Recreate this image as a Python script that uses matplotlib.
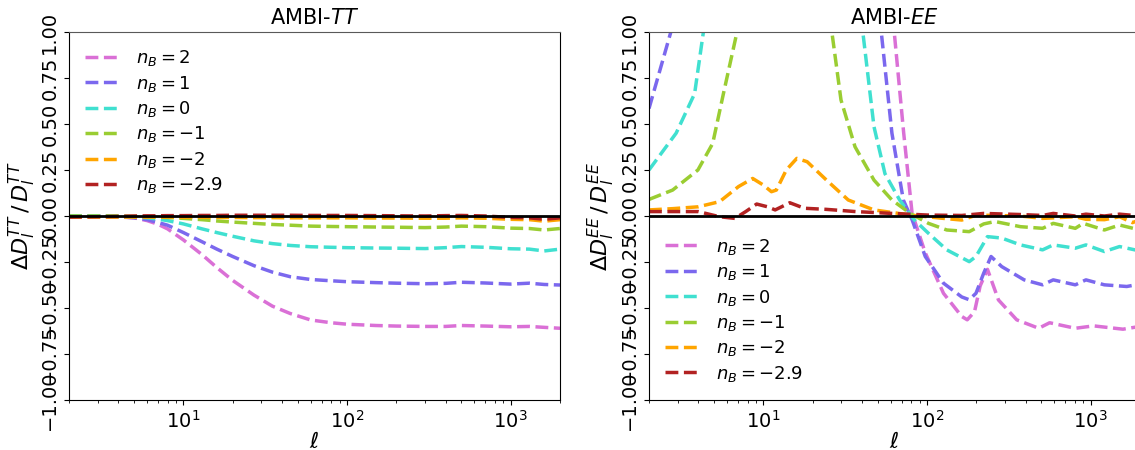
import numpy as np
import matplotlib
matplotlib.use('Agg')
import matplotlib.pyplot as plt

plt.rcParams['mathtext.fontset'] = 'dejavusans'

labels = [r'$n_B = 2$', r'$n_B = 1$', r'$n_B = 0$', r'$n_B = -1$', r'$n_B = -2$', r'$n_B = -2.9$']
colors = ['orchid', 'mediumslateblue', 'turquoise', 'yellowgreen', 'orange', 'firebrick']

# TT panel, values
ell_tt = [2, 3, 4, 5, 6, 7, 8, 10, 13, 16, 20, 27, 35, 45, 60, 80, 100, 150, 200, 300, 400, 500, 700, 1000, 1300, 1600, 2000]
tt_n2 = [0, 0, -0.005, -0.01, -0.025, -0.045, -0.07, -0.13, -0.21, -0.28, -0.35, -0.43, -0.49, -0.53, -0.565, -0.58, -0.588, -0.595, -0.598, -0.60, -0.60, -0.595, -0.598, -0.602, -0.60, -0.605, -0.61]
tt_n1 = [0, 0, -0.003, -0.01, -0.02, -0.035, -0.05, -0.09, -0.14, -0.18, -0.22, -0.27, -0.305, -0.33, -0.345, -0.352, -0.357, -0.362, -0.365, -0.368, -0.366, -0.36, -0.364, -0.37, -0.365, -0.372, -0.375]
tt_n0 = [0, 0, -0.002, -0.005, -0.01, -0.017, -0.025, -0.043, -0.07, -0.09, -0.11, -0.135, -0.15, -0.16, -0.167, -0.17, -0.172, -0.174, -0.175, -0.177, -0.172, -0.166, -0.17, -0.178, -0.18, -0.19, -0.18]
tt_nm1 = [0, 0, 0, -0.002, -0.004, -0.006, -0.008, -0.013, -0.02, -0.027, -0.033, -0.04, -0.046, -0.05, -0.055, -0.057, -0.058, -0.06, -0.061, -0.063, -0.06, -0.055, -0.058, -0.066, -0.068, -0.076, -0.068]
tt_nm2 = [-0.006, -0.006, -0.006, -0.006, -0.006, -0.006, -0.006, -0.007, -0.007, -0.008, -0.008, -0.009, -0.009, -0.01, -0.01, -0.01, -0.01, -0.011, -0.011, -0.012, -0.012, -0.01, -0.012, -0.018, -0.02, -0.028, -0.02]
tt_nm29 = [-0.006, -0.004, -0.002, 0, 0.001, 0.001, 0.002, 0.002, 0.003, 0.003, 0.004, 0.004, 0.004, 0.004, 0.003, 0.003, 0.003, 0.002, 0.001, 0.0, 0.002, 0.003, 0.0, -0.008, -0.01, -0.018, -0.01]
tt_all = [tt_n2, tt_n1, tt_n0, tt_nm1, tt_nm2, tt_nm29]

# EE panel (values above 1 run off the top of the axes)
ell_ee_n2 = [2, 10, 40, 55, 63, 72, 81, 97.5, 126, 163, 176, 195, 211, 234, 273, 353, 481, 561, 805, 1042, 1574, 2000]
ee_n2 = [5, 5, 5, 2.0, 1.0, 0.45, 0.015, -0.2, -0.42, -0.546, -0.564, -0.52, -0.38, -0.29, -0.456, -0.564, -0.61, -0.58, -0.61, -0.597, -0.615, -0.6]
ell_ee_n1 = [2, 2.72, 3.5, 40, 52.5, 61, 71.6, 81, 97.5, 126, 163, 181, 199, 222, 246, 286, 392, 508, 590, 805, 935, 1212, 1660, 2000]
ee_n1 = [0.584, 1.0, 2.0, 2.0, 1.0, 0.45, 0.087, -0.02, -0.22, -0.365, -0.44, -0.455, -0.42, -0.31, -0.22, -0.275, -0.347, -0.374, -0.347, -0.374, -0.347, -0.374, -0.383, -0.37]
ell_ee_n0 = [2, 2.93, 3.8, 4.3, 6, 30, 40.5, 47.4, 55.3, 68, 83.3, 102, 132, 181, 199, 234, 286, 372, 508, 590, 805, 935, 1212, 1500, 2000]
ee_n0 = [0.25, 0.45, 0.665, 1.0, 2.0, 2.0, 1.0, 0.485, 0.23, 0.087, -0.02, -0.094, -0.184, -0.248, -0.22, -0.112, -0.12, -0.157, -0.184, -0.157, -0.175, -0.157, -0.193, -0.166, -0.19]
ell_ee_nm1 = [2, 2.79, 3.98, 4.9, 5.7, 6.9, 9, 20, 26.2, 29.8, 36.3, 47.4, 61, 79, 102, 132, 181, 222, 260, 372, 508, 590, 805, 900, 1212, 1500, 2000]
ee_nm1 = [0.09, 0.141, 0.25, 0.394, 0.665, 1.0, 2.0, 2.0, 1.0, 0.63, 0.376, 0.195, 0.087, 0.014, -0.04, -0.076, -0.085, -0.043, -0.03, -0.058, -0.067, -0.04, -0.067, -0.04, -0.076, -0.049, -0.076]
ell_ee_nm2 = [2, 2.8, 4, 5.4, 7.05, 8.6, 10, 11.2, 12, 13.8, 16, 18.5, 24.3, 33, 47.4, 79, 126, 163, 200, 372, 508, 805, 935, 1212, 1500, 1800, 2000]
ee_nm2 = [0.033, 0.04, 0.05, 0.078, 0.16, 0.204, 0.168, 0.132, 0.141, 0.25, 0.313, 0.295, 0.195, 0.087, 0.033, 0.005, -0.013, -0.022, 0.005, 0.0, -0.013, -0.004, -0.018, -0.02, -0.004, -0.036, -0.02]
ell_ee_nm29 = [2, 4, 5.4, 6.7, 7.8, 9.1, 10.6, 11.8, 14.5, 17.8, 24.3, 36.6, 61, 102, 163, 222, 372, 508, 590, 805, 935, 1212, 1500, 2000]
ee_nm29 = [0.024, 0.024, -0.004, -0.013, 0.024, 0.065, 0.05, 0.033, 0.072, 0.042, 0.036, 0.024, 0.014, 0.005, 0.003, 0.014, 0.008, 0.003, 0.014, 0.0, 0.01, 0.0, 0.01, 0.0]
ee_ell = [ell_ee_n2, ell_ee_n1, ell_ee_n0, ell_ee_nm1, ell_ee_nm2, ell_ee_nm29]
ee_all = [ee_n2, ee_n1, ee_n0, ee_nm1, ee_nm2, ee_nm29]

yticks = [-1.0, -0.75, -0.5, -0.25, 0.0, 0.25, 0.5, 0.75, 1.0]

fig = plt.figure(figsize=(11.35, 4.5), dpi=100)
ax1 = fig.add_axes([0.0608, 0.111, 0.4326, 0.818])
ax2 = fig.add_axes([0.5718, 0.111, 0.4326, 0.818])


def style_axis(ax, title, ylab):
    ax.set_xscale('log')
    ax.set_xlim(2, 2000)
    ax.set_ylim(-1, 1)
    ax.set_yticks(yticks)
    ax.set_yticklabels([('%.2f' % v).replace('-', '\u2212') for v in yticks])
    ax.axhline(0, color='black', lw=2, zorder=5)
    ax.tick_params(axis='y', labelrotation=90, labelsize=14)
    ax.tick_params(axis='x', labelsize=14)
    for lab in ax.get_yticklabels():
        lab.set_va('center')
    ax.spines['top'].set_color('0.35')
    ax.set_title(title, fontsize=15)
    ax.set_xlabel(r'$\ell$', fontsize=16, labelpad=0)
    ax.set_ylabel(ylab, fontsize=16, labelpad=2)


for vals, c, lab in zip(tt_all, colors, labels):
    ax1.plot(ell_tt, vals, '--', color=c, lw=2.5, label=lab)
style_axis(ax1, r'AMBI-$TT$', r'$\Delta D_l^{TT}\,/\,D_l^{TT}$')
ax1.legend(loc='upper left', frameon=False, fontsize=13, handlelength=1.8,
           handletextpad=1.0, labelspacing=0.3)

for ells, vals, c, lab in zip(ee_ell, ee_all, colors, labels):
    ax2.plot(ells, vals, '--', color=c, lw=2.5, label=lab)
style_axis(ax2, r'AMBI-$EE$', r'$\Delta D_l^{EE}\,/\,D_l^{EE}$')
ax2.legend(loc='lower left', frameon=False, fontsize=13, handlelength=1.8,
           handletextpad=1.0, labelspacing=0.3)

fig.savefig('out.png', dpi=100)
